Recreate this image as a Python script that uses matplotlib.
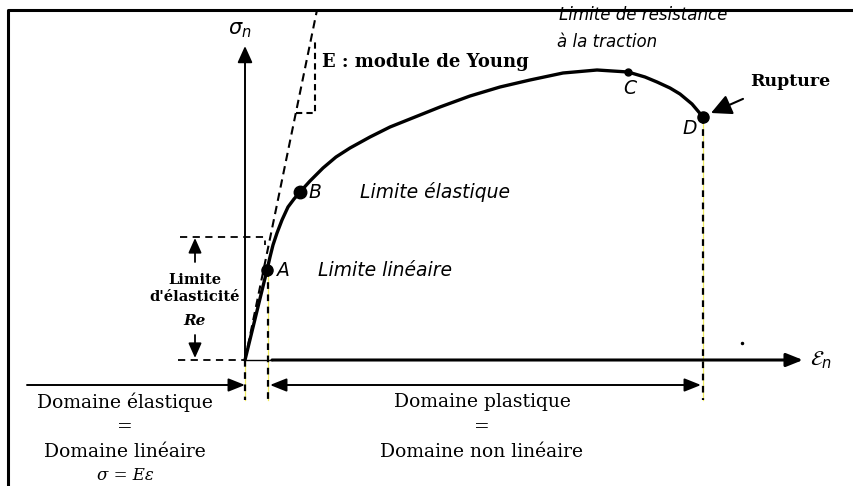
#!/usr/bin/env python
"""Courbe de traction : contrainte nominale en fonction de la deformation."""
import matplotlib.pyplot as plt

# courbe de traction (deformation, contrainte) en unites du schema
strain = [0, 22, 25, 28, 32, 37, 43, 49, 55, 65, 78, 91, 105, 125, 145,
          170, 195, 225, 255, 285, 318, 352, 383, 400, 412, 425, 435, 447,
          458]
stress = [0, 90, 103, 115, 127, 140, 153, 161, 168, 179, 192, 203, 212,
          223, 233, 243, 253, 264, 273, 280, 287, 290, 288, 283, 278, 272,
          266, 256, 243]

# points remarquables
point_names = ['A', 'B', 'C', 'D']
point_strain = [22, 55, 383, 458]
point_stress = [90, 168, 288, 243]

# droite de Hooke (module de Young)
young_strain = [0, 72]
young_stress = [0, 350]

re_stress = 123          # limite d'elasticite
eps_lin = 23             # fin du domaine lineaire
eps_rupture = 458        # deformation a rupture

SERIF = 'DejaVu Serif'
SANS = 'DejaVu Sans'


def main():
    """Dessine le schema et l'enregistre."""
    fig = plt.figure(figsize=(8.54, 4.86), dpi=100)
    ax = fig.add_axes([0, 0, 1, 1])
    ax.set_xlim(-245, 609)
    ax.set_ylim(-126, 360)
    ax.axis('off')

    # cadre
    ax.plot([-237, -237, 609], [-126, 350, 350], color='black', lw=2.2,
            solid_capstyle='butt', zorder=6)

    # axes
    ax.annotate('', xy=(0, 314), xytext=(0, 0),
                arrowprops=dict(arrowstyle='-|>,head_length=1.0,head_width=0.45',
                                color='black', lw=1.4, shrinkA=0, shrinkB=0))
    ax.plot([0, 27], [0, 0], color='black', lw=1.0)
    ax.annotate('', xy=(558, 0), xytext=(27, 0),
                arrowprops=dict(arrowstyle='-|>,head_length=1.0,head_width=0.4',
                                color='black', lw=2.2, shrinkA=0, shrinkB=0))
    ax.text(-5, 330, r'$\sigma_n$', fontsize=15, ha='center', va='center')
    ax.text(565, 0, r'$\mathcal{E}_n$', fontsize=15, ha='left', va='center')

    # droite E et triangle de pente
    ax.plot(young_strain, young_stress, color='black', lw=1.5, ls=(0, (4, 2.5)))
    ax.plot([51, 70, 70], [247, 247, 318], color='black', lw=1.5,
            ls=(0, (3, 2)))
    ax.text(77, 298, 'E : module de Young', fontfamily=SERIF,
            fontweight='bold', fontsize=13, ha='left', va='center')

    # reperes verticaux pointilles
    for x, y0 in [(0, 0), (eps_lin, point_stress[0]),
                  (eps_rupture, point_stress[3])]:
        ax.plot([x, x], [y0, -40], color='#f0ec60', lw=0.9)
        ax.plot([x, x], [y0, -40], color='black', lw=1.6, ls=(0, (3, 2.5)))

    # courbe
    ax.plot(strain, stress, color='black', lw=2.4, solid_joinstyle='round',
            solid_capstyle='round', zorder=4)
    sizes = [8, 9, 5, 8]
    for name, x, y, s in zip(point_names, point_strain, point_stress, sizes):
        ax.plot(x, y, 'o', color='black', ms=s, zorder=5)

    # limite d'elasticite Re
    ax.plot([-65, 20, 20], [re_stress, re_stress, re_stress - 8],
            color='black', lw=1.3, ls=(0, (4, 3)))
    ax.plot([-67, 0], [0, 0], color='black', lw=1.3, ls=(0, (4, 3)))
    arrow = dict(arrowstyle='-|>,head_length=0.9,head_width=0.4',
                 color='black', lw=1.3, shrinkA=0, shrinkB=0)
    ax.annotate('', xy=(-50, re_stress - 1), xytext=(-50, 98),
                arrowprops=arrow)
    ax.annotate('', xy=(-50, 2), xytext=(-50, 25), arrowprops=arrow)
    ax.text(-50, 80, 'Limite', fontfamily=SERIF, fontweight='bold',
            fontsize=10.5, ha='center', va='center')
    ax.text(-50, 63, "d'élasticité", fontfamily=SERIF, fontweight='bold',
            fontsize=10.5, ha='center', va='center')
    ax.text(-50, 39, 'Re', fontfamily=SERIF, fontstyle='italic',
            fontweight='bold', fontsize=11, ha='center', va='center')

    # etiquettes des points
    it = dict(fontfamily=SANS, fontstyle='italic', fontsize=13.5, va='center')
    ax.text(32, 90, 'A', ha='left', **it)
    ax.text(73, 90, 'Limite linéaire', ha='left', **it)
    ax.text(64, 168, 'B', ha='left', **it)
    ax.text(115, 168, 'Limite élastique', ha='left', **it)
    ax.text(385, 271, 'C', ha='center', **it)
    ax.text(445, 231, 'D', ha='center', **it)
    ax.text(314, 345, 'Limite de resistance', fontfamily=SANS,
            fontstyle='italic', fontsize=12, ha='left', va='center')
    ax.text(312, 318, 'à la traction', fontfamily=SANS, fontstyle='italic',
            fontsize=12, ha='left', va='center')

    # rupture
    ax.annotate('Rupture', xy=(466, 247), xytext=(505, 278),
                fontfamily=SERIF, fontweight='bold', fontsize=12.5,
                ha='left', va='center',
                arrowprops=dict(arrowstyle='-|>,head_length=1.0,head_width=0.5',
                                color='black', lw=1.5, shrinkA=10, shrinkB=0,
                                relpos=(0.15, 0.0)))
    ax.plot(497, 17, 'o', color='black', ms=1.5)

    # domaines
    ax.annotate('', xy=(0, -25), xytext=(-218, -25),
                arrowprops=dict(arrowstyle='-|>,head_length=1.0,head_width=0.4',
                                color='black', lw=1.4, shrinkA=0, shrinkB=0))
    ax.annotate('', xy=(456, -25), xytext=(25, -25),
                arrowprops=dict(arrowstyle='<|-|>,head_length=1.0,head_width=0.4',
                                color='black', lw=1.4, shrinkA=0, shrinkB=0))
    dom = dict(fontfamily=SERIF, fontsize=13.5, ha='center', va='center')
    ax.text(-120, -42, 'Domaine élastique', **dom)
    ax.text(-120, -67, '=', **dom)
    ax.text(-120, -92, 'Domaine linéaire', **dom)
    ax.text(-120, -115, 'σ = Eε', fontfamily=SERIF, fontstyle='italic',
            fontsize=12, ha='center', va='center')
    ax.text(237, -42, 'Domaine plastique', **dom)
    ax.text(237, -67, '=', **dom)
    ax.text(237, -92, 'Domaine non linéaire', **dom)

    fig.savefig('out.png', dpi=100)


if __name__ == "__main__":
    main()
